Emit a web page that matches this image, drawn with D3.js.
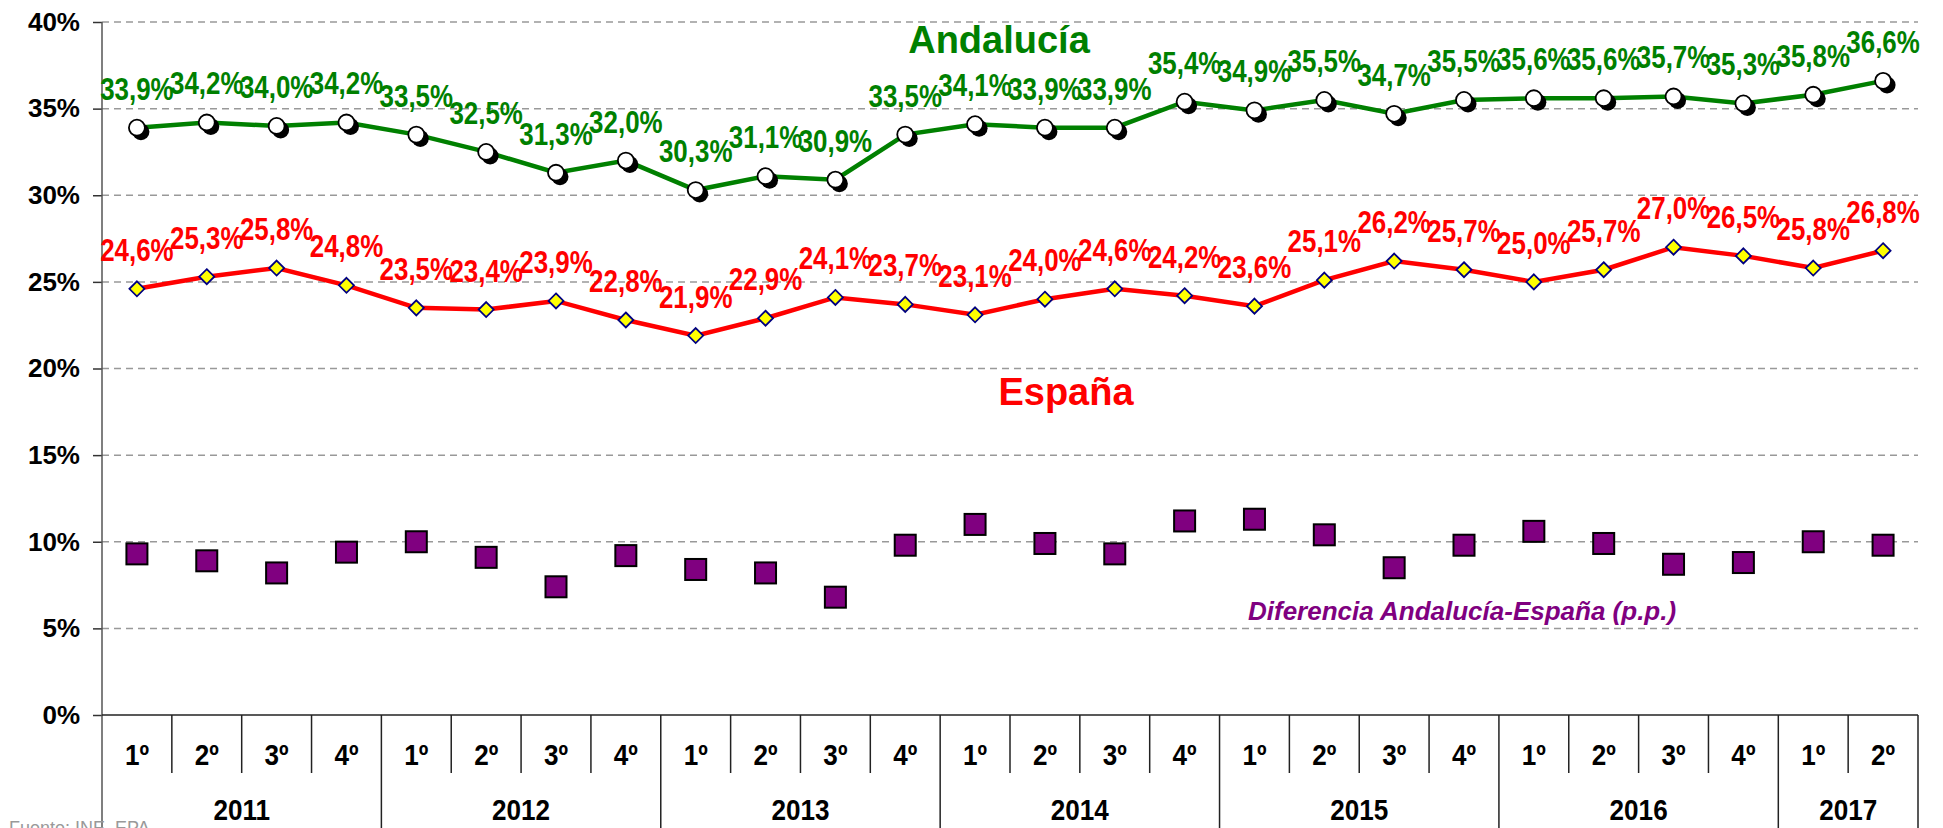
<!DOCTYPE html>
<html>
<head>
<meta charset="utf-8">
<script src="https://cdn.jsdelivr.net/npm/d3@7"></script>
<style>
  body { margin: 0; background: #fff; }
  svg { display: block; }
</style>
</head>
<body>
<svg id="chart" width="1943" height="828"></svg>
<script>
// periodos (año-trimestre)
const periods = [
  "2011-1º", "2011-2º", "2011-3º", "2011-4º",
  "2012-1º", "2012-2º", "2012-3º", "2012-4º",
  "2013-1º", "2013-2º", "2013-3º", "2013-4º",
  "2014-1º", "2014-2º", "2014-3º", "2014-4º",
  "2015-1º", "2015-2º", "2015-3º", "2015-4º",
  "2016-1º", "2016-2º", "2016-3º", "2016-4º",
  "2017-1º", "2017-2º"
];
const years = ["2011", "2012", "2013", "2014", "2015", "2016", "2017"];

const andalucia = [33.9, 34.2, 34.0, 34.2, 33.5, 32.5, 31.3, 32.0, 30.3, 31.1, 30.9, 33.5, 34.1,
  33.9, 33.9, 35.4, 34.9, 35.5, 34.7, 35.5, 35.6, 35.6, 35.7, 35.3, 35.8, 36.6];
const espana = [24.6, 25.3, 25.8, 24.8, 23.5, 23.4, 23.9, 22.8, 21.9, 22.9, 24.1, 23.7, 23.1,
  24.0, 24.6, 24.2, 23.6, 25.1, 26.2, 25.7, 25.0, 25.7, 27.0, 26.5, 25.8, 26.8];
const diferencia = [9.3, 8.9, 8.2, 9.4, 10.0, 9.1, 7.4, 9.2, 8.4, 8.2, 6.8, 9.8, 11.0,
  9.9, 9.3, 11.2, 11.3, 10.4, 8.5, 9.8, 10.6, 9.9, 8.7, 8.8, 10.0, 9.8];

const yTicks = [0, 5, 10, 15, 20, 25, 30, 35, 40];

const svg = d3.select("#chart");
const font = "'Liberation Sans', Arial, sans-serif";

const plotLeft = 102, plotRight = 1918, plotTop = 22, plotBottom = 715;

const x = d3.scaleBand().domain(periods).range([plotLeft, plotRight]).padding(0);
const y = d3.scaleLinear().domain([0, 40]).range([plotBottom, plotTop]);
const cx = p => x(p) + x.bandwidth() / 2;
const fmt = v => d3.format(".1f")(v).replace(".", ",") + "%";

// rejilla
svg.append("g")
  .selectAll("line")
  .data(yTicks.filter(d => d > 0))
  .join("line")
  .attr("x1", plotLeft)
  .attr("x2", plotRight)
  .attr("y1", d => y(d))
  .attr("y2", d => y(d))
  .attr("stroke", "#999")
  .attr("stroke-width", 1.5)
  .attr("stroke-dasharray", "7,5");

// eje Y
const yAxis = svg.append("g")
  .attr("transform", `translate(${plotLeft},0)`)
  .call(d3.axisLeft(y).tickValues(yTicks).tickSize(9).tickPadding(13).tickFormat(d => d + "%"));
yAxis.select(".domain").remove();
yAxis.selectAll(".tick line").attr("stroke", "#333").attr("stroke-width", 1.5);
yAxis.selectAll("text")
  .attr("font-family", font)
  .attr("font-weight", "bold")
  .attr("font-size", 26)
  .attr("fill", "#000");

svg.append("line")
  .attr("x1", plotLeft).attr("x2", plotLeft)
  .attr("y1", plotTop).attr("y2", 828)
  .attr("stroke", "#555").attr("stroke-width", 1.5);

// eje X en forma de tabla
svg.append("line")
  .attr("x1", plotLeft).attr("x2", plotRight)
  .attr("y1", plotBottom).attr("y2", plotBottom)
  .attr("stroke", "#222").attr("stroke-width", 1.5);

const axisG = svg.append("g");
periods.forEach((p, i) => {
  const q = p.split("-")[1];
  if (q !== "1º") {
    axisG.append("line")
      .attr("x1", x(p)).attr("x2", x(p))
      .attr("y1", plotBottom).attr("y2", 773)
      .attr("stroke", "#222").attr("stroke-width", 1.5);
  } else if (i > 0) {
    axisG.append("line")
      .attr("x1", x(p)).attr("x2", x(p))
      .attr("y1", plotBottom).attr("y2", 828)
      .attr("stroke", "#222").attr("stroke-width", 1.5);
  }
  axisG.append("text")
    .attr("transform", `translate(${cx(p)},765) scale(0.9,1)`)
    .attr("text-anchor", "middle")
    .attr("font-family", font)
    .attr("font-weight", "bold")
    .attr("font-size", 29)
    .text(q);
});
axisG.append("line")
  .attr("x1", plotRight).attr("x2", plotRight)
  .attr("y1", plotBottom).attr("y2", 828)
  .attr("stroke", "#222").attr("stroke-width", 1.5);

years.forEach(yr => {
  const ps = periods.filter(p => p.startsWith(yr));
  const x0 = x(ps[0]);
  const x1 = x(ps[ps.length - 1]) + x.bandwidth();
  axisG.append("text")
    .attr("transform", `translate(${(x0 + x1) / 2},820) scale(0.9,1)`)
    .attr("text-anchor", "middle")
    .attr("font-family", font)
    .attr("font-weight", "bold")
    .attr("font-size", 29)
    .text(yr);
});

// fuente
svg.append("text")
  .attr("x", 9)
  .attr("y", 834)
  .attr("font-family", font)
  .attr("font-size", 18)
  .attr("fill", "#999")
  .text("Fuente: INE. EPA");

// diferencia (cuadrados)
svg.append("g")
  .selectAll("rect")
  .data(periods)
  .join("rect")
  .attr("x", p => cx(p) - 10.5)
  .attr("y", (p, i) => y(diferencia[i]) - 10.5)
  .attr("width", 21)
  .attr("height", 21)
  .attr("fill", "#800080")
  .attr("stroke", "#000")
  .attr("stroke-width", 2);

const line = d3.line().x((d, i) => cx(periods[i])).y(d => y(d));

// España
svg.append("path")
  .datum(espana)
  .attr("d", line)
  .attr("fill", "none")
  .attr("stroke", "#ff0000")
  .attr("stroke-width", 4.5);

svg.append("g")
  .selectAll("path")
  .data(espana)
  .join("path")
  .attr("d", (d, i) => {
    const px = cx(periods[i]), py = y(d), r = 7.5;
    return `M${px},${py - r}L${px + r},${py}L${px},${py + r}L${px - r},${py}Z`;
  })
  .attr("fill", "#ffff00")
  .attr("stroke", "#000080")
  .attr("stroke-width", 1.8);

// Andalucía
svg.append("path")
  .datum(andalucia)
  .attr("d", line)
  .attr("fill", "none")
  .attr("stroke", "#008000")
  .attr("stroke-width", 4.5);

const dots = svg.append("g");
dots.selectAll(".shadow")
  .data(andalucia)
  .join("circle")
  .attr("class", "shadow")
  .attr("cx", (d, i) => cx(periods[i]) + 4)
  .attr("cy", d => y(d) + 4)
  .attr("r", 8.5)
  .attr("fill", "#000");
dots.selectAll(".dot")
  .data(andalucia)
  .join("circle")
  .attr("class", "dot")
  .attr("cx", (d, i) => cx(periods[i]))
  .attr("cy", d => y(d))
  .attr("r", 8)
  .attr("fill", "#fff")
  .attr("stroke", "#000")
  .attr("stroke-width", 1.8);

// etiquetas de datos (letra estrecha)
function labels(values, color) {
  svg.append("g")
    .selectAll("text")
    .data(values)
    .join("text")
    .attr("transform", (d, i) => `translate(${cx(periods[i])},${y(d) - 28}) scale(0.81,1)`)
    .attr("text-anchor", "middle")
    .attr("font-family", font)
    .attr("font-weight", "bold")
    .attr("font-size", 32)
    .attr("fill", color)
    .text(d => fmt(d));
}
labels(andalucia, "#008000");
labels(espana, "#ff0000");

// títulos de series
svg.append("text")
  .attr("x", 999).attr("y", 53)
  .attr("text-anchor", "middle")
  .attr("font-family", font).attr("font-weight", "bold").attr("font-size", 38)
  .attr("fill", "#008000")
  .text("Andalucía");

svg.append("text")
  .attr("x", 1066).attr("y", 405)
  .attr("text-anchor", "middle")
  .attr("font-family", font).attr("font-weight", "bold").attr("font-size", 38)
  .attr("fill", "#ff0000")
  .text("España");

svg.append("text")
  .attr("x", 1248).attr("y", 620)
  .attr("font-family", font).attr("font-weight", "bold").attr("font-style", "italic")
  .attr("font-size", 26)
  .attr("fill", "#800080")
  .text("Diferencia Andalucía-España (p.p.)");
</script>
</body>
</html>
